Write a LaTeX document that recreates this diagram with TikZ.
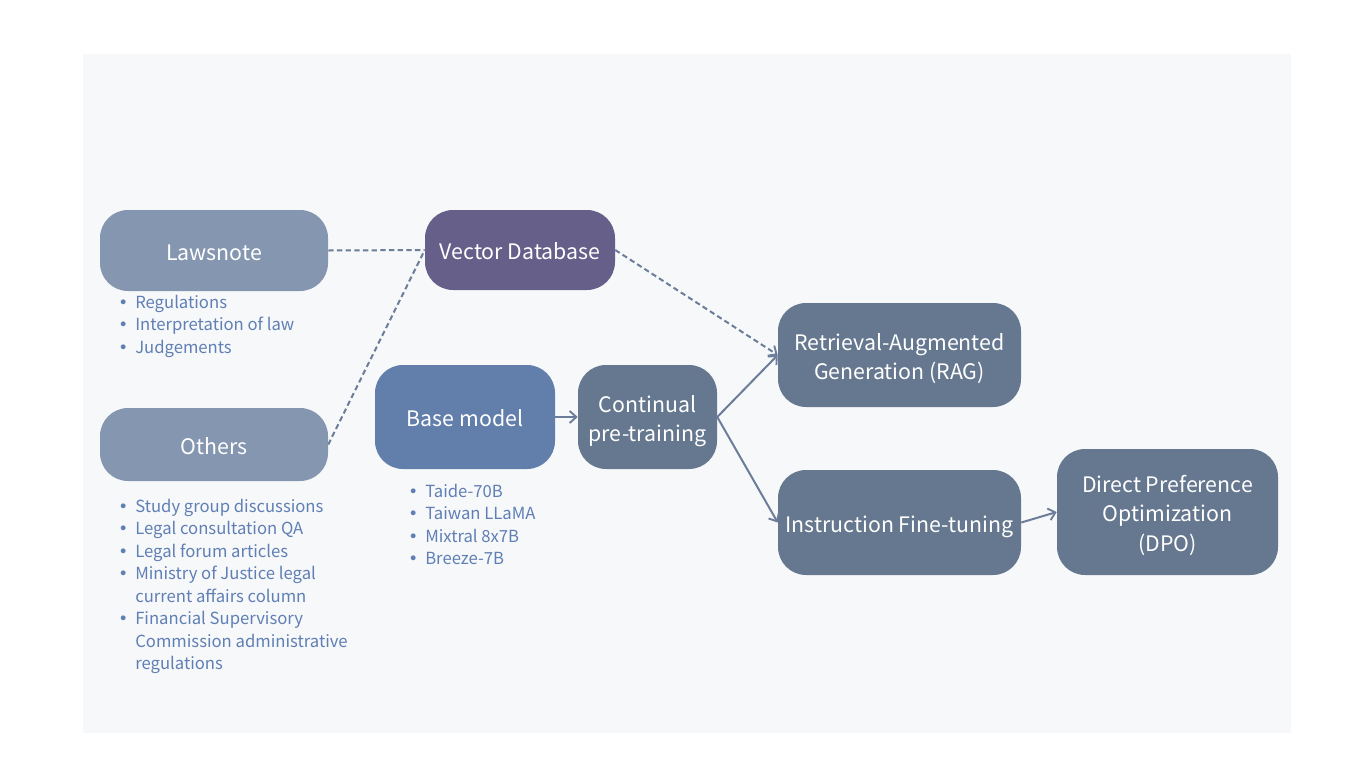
\documentclass[tikz,border=0pt]{standalone}
\usepackage{fontspec}
\setmainfont{Noto Sans CJK TC}
\newfontfamily\bulfont{DejaVu Sans}
\usetikzlibrary{arrows.meta}
\definecolor{panelbg}{HTML}{F7F8F9}
\definecolor{srcfill}{HTML}{8597B0}
\definecolor{vecfill}{HTML}{665F8A}
\definecolor{basefill}{HTML}{627EAB}
\definecolor{stepfill}{HTML}{66788F}
\definecolor{listcol}{HTML}{5F7FB5}
\definecolor{linecol}{HTML}{6B7D99}
\tikzset{
  box/.style={rounded corners=21pt, inner sep=0pt, text=white, align=center,
    font=\fontsize{16}{22}\selectfont},
  conn/.style={draw=linecol, line width=1.5pt},
  dconn/.style={conn, dash pattern=on 4pt off 2.5pt},
  arr/.style={-{Straight Barb[length=5pt,width=9pt,line width=1.4pt]}},
  listtxt/.style={text=listcol, inner sep=0pt, anchor=base west,
    font=\fontsize{12.5}{16.9}\selectfont}
}
\newcommand{\bul}{\makebox[12.75pt][l]{{\bulfont •}}}
\newcommand{\btxt}[1]{\raisebox{-7.3pt}[0pt][0pt]{\begin{tabular}{@{}c@{}}#1\end{tabular}}}
\begin{document}
\begin{tikzpicture}[x=0.75pt,y=-0.75pt]
\useasboundingbox (0,0) rectangle (1354,768);
\fill[white] (0,0) rectangle (1354,768);
\fill[panelbg] (83,54) rectangle (1291,733);

\node[box, fill=srcfill, minimum width=171pt, minimum height=60.75pt] (law) at (214,250.5) {\btxt{Lawsnote}};
\node[box, fill=srcfill, minimum width=171pt, minimum height=54.75pt] (oth) at (214,444.5) {\btxt{Others}};
\node[box, fill=vecfill, minimum width=142.5pt, minimum height=60pt] (vec) at (520,250) {\btxt{Vector Database}};
\node[box, fill=basefill, minimum width=135pt, minimum height=78pt] (base) at (465,417) {\btxt{Base model}};
\node[box, fill=stepfill, minimum width=104.25pt, minimum height=78pt] (cont) at (647.5,417) {\btxt{Continual\\pre-training}};
\node[box, fill=stepfill, minimum width=182.25pt, minimum height=78pt] (rag) at (899.5,355) {\btxt{Retrieval-Augmented\\Generation (RAG)}};
\node[box, fill=stepfill, minimum width=182.25pt, minimum height=78.75pt] (ift) at (899.5,522.5) {\btxt{Instruction Fine-tuning}};
\node[box, fill=stepfill, minimum width=165.75pt, minimum height=94.5pt] (dpo) at (1167.5,512) {\btxt{Direct Preference\\Optimization\\(DPO)}};

\node[listtxt] (lawlist) at (118,308) {\begin{tabular}[t]{@{}l@{}l@{}}
\bul & Regulations\\
\bul & Interpretation of law\\
\bul & Judgements
\end{tabular}};
\node[listtxt] (othlist) at (118,512) {\begin{tabular}[t]{@{}l@{}l@{}}
\bul & Study group discussions\\
\bul & Legal consultation QA\\
\bul & Legal forum articles\\
\bul & Ministry of Justice legal\\
 & current affairs column\\
\bul & Financial Supervisory\\
 & Commission administrative\\
 & regulations
\end{tabular}};
\node[listtxt] (baselist) at (408,497) {\begin{tabular}[t]{@{}l@{}l@{}}
\bul & Taide-70B\\
\bul & Taiwan LLaMA\\
\bul & Mixtral 8x7B\\
\bul & Breeze-7B
\end{tabular}};

\draw[dconn] (law.east) -- (vec.west);
\draw[dconn] (oth.east) -- (vec.west);
\draw[dconn, arr] (vec.east) -- (rag.west);
\draw[conn, arr] (base.east) -- (cont.west);
\draw[conn, arr] (cont.east) -- (rag.west);
\draw[conn, arr] (cont.east) -- (ift.west);
\draw[conn, arr] (ift.east) -- (dpo.west);
\end{tikzpicture}
\end{document}
